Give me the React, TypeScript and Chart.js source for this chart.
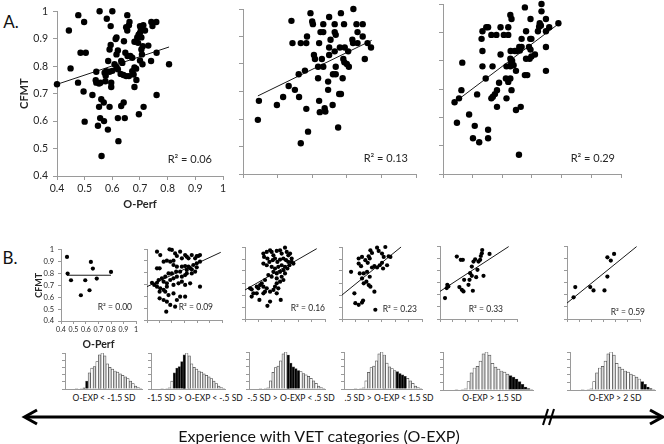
import React, { useEffect, useRef } from "react";
import { Chart, registerables } from "chart.js";
Chart.register(...registerables);

const FONT = "Lato, 'Open Sans', 'DejaVu Sans', sans-serif";
const AXIS_GREY = "#9a9a9a";
const TEXT = "#262626";
Chart.defaults.font.family = FONT;

// ---------- tick labels ----------
const oPerfTickLabels = ["0.4", "0.5", "0.6", "0.7", "0.8", "0.9", "1"];
const cfmtTickLabels = ["0.4", "0.5", "0.6", "0.7", "0.8", "0.9", "1"];
const xTitle = "O-Perf";
const yTitle = "CFMT";

// ---------- panel A data: [O-Perf, CFMT] ----------
const a1Points: [number, number][] = [
  [0.554, 1.0], [0.6, 1.0], [0.477, 0.986], [0.654, 0.986], [0.58, 0.973], [0.498, 0.961], [0.594, 0.946],
  [0.662, 0.961], [0.66, 0.949], [0.65, 0.942], [0.654, 0.93], [0.443, 0.93], [0.7, 0.946], [0.703, 0.937],
  [0.712, 0.949], [0.745, 0.946], [0.741, 0.961], [0.759, 0.961], [0.718, 0.93], [0.615, 0.905], [0.612, 0.899],
  [0.69, 0.905], [0.695, 0.915], [0.7, 0.922], [0.705, 0.905], [0.642, 0.891], [0.68, 0.889], [0.693, 0.885],
  [0.594, 0.877], [0.59, 0.861], [0.71, 0.873], [0.73, 0.875], [0.485, 0.849], [0.504, 0.849], [0.62, 0.857],
  [0.615, 0.843], [0.647, 0.849], [0.655, 0.837], [0.665, 0.837], [0.705, 0.861], [0.707, 0.843], [0.76, 0.849],
  [0.585, 0.819], [0.608, 0.807], [0.615, 0.797], [0.632, 0.819], [0.636, 0.812], [0.672, 0.831], [0.7, 0.821],
  [0.709, 0.807], [0.74, 0.819], [0.805, 0.807], [0.449, 0.792], [0.6, 0.783], [0.62, 0.789], [0.68, 0.795],
  [0.686, 0.791], [0.542, 0.78], [0.572, 0.776], [0.578, 0.782], [0.59, 0.78], [0.63, 0.772], [0.64, 0.768],
  [0.65, 0.764], [0.66, 0.764], [0.672, 0.782], [0.677, 0.77], [0.4, 0.734], [0.476, 0.74], [0.54, 0.749],
  [0.542, 0.74], [0.552, 0.737], [0.557, 0.74], [0.576, 0.765], [0.575, 0.745], [0.596, 0.74], [0.596, 0.724],
  [0.687, 0.75], [0.68, 0.724], [0.496, 0.708], [0.528, 0.695], [0.56, 0.68], [0.569, 0.668], [0.76, 0.695],
  [0.552, 0.652], [0.59, 0.652], [0.632, 0.655], [0.641, 0.668], [0.713, 0.652], [0.556, 0.611], [0.62, 0.611],
  [0.645, 0.611], [0.5, 0.598], [0.57, 0.6], [0.696, 0.625], [0.548, 0.583], [0.584, 0.569], [0.622, 0.527],
  [0.561, 0.473],
];
const a1Trend: [number, number][] = [[0.4, 0.734], [0.805, 0.87]];

const a2Points: [number, number][] = [
  [0.595, 0.985], [0.719, 1.0], [0.683, 0.985], [0.649, 0.971], [0.54, 0.957], [0.6, 0.955], [0.602, 0.945],
  [0.632, 0.945], [0.665, 0.945], [0.692, 0.945], [0.728, 0.945], [0.746, 0.945], [0.624, 0.916], [0.632, 0.916],
  [0.665, 0.916], [0.668, 0.906], [0.731, 0.916], [0.585, 0.9], [0.746, 0.9], [0.653, 0.888], [0.716, 0.888],
  [0.718, 0.876], [0.543, 0.876], [0.567, 0.876], [0.583, 0.876], [0.62, 0.876], [0.731, 0.876], [0.76, 0.876],
  [0.77, 0.86], [0.649, 0.86], [0.68, 0.86], [0.694, 0.86], [0.665, 0.846], [0.704, 0.846], [0.605, 0.833],
  [0.608, 0.818], [0.649, 0.833], [0.628, 0.818], [0.69, 0.818], [0.693, 0.806], [0.752, 0.818], [0.617, 0.79],
  [0.632, 0.79], [0.668, 0.79], [0.7, 0.8], [0.706, 0.79], [0.579, 0.776], [0.561, 0.763], [0.66, 0.763],
  [0.668, 0.763], [0.617, 0.748], [0.688, 0.748], [0.646, 0.736], [0.532, 0.72], [0.55, 0.706], [0.646, 0.706],
  [0.678, 0.691], [0.683, 0.691], [0.446, 0.666], [0.516, 0.68], [0.562, 0.68], [0.62, 0.666], [0.498, 0.651],
  [0.659, 0.651], [0.583, 0.637], [0.636, 0.639], [0.638, 0.627], [0.622, 0.625], [0.443, 0.597], [0.675, 0.569],
  [0.588, 0.554], [0.567, 0.512],
];
const a2Trend: [number, number][] = [[0.443, 0.684], [0.772, 0.886]];

const a3Points: [number, number][] = [
  [0.732, 1.0], [0.676, 0.988], [0.732, 0.974], [0.627, 0.961], [0.631, 0.947], [0.747, 0.947], [0.695, 0.947],
  [0.726, 0.932], [0.73, 0.924], [0.724, 0.92], [0.789, 0.932], [0.758, 0.918], [0.546, 0.918], [0.552, 0.918],
  [0.594, 0.918], [0.62, 0.918], [0.533, 0.904], [0.68, 0.904], [0.72, 0.904], [0.747, 0.904], [0.563, 0.891],
  [0.58, 0.891], [0.605, 0.891], [0.62, 0.891], [0.53, 0.877], [0.665, 0.877], [0.698, 0.877], [0.694, 0.877],
  [0.657, 0.848], [0.665, 0.848], [0.69, 0.848], [0.695, 0.839], [0.533, 0.834], [0.628, 0.834], [0.642, 0.834],
  [0.648, 0.834], [0.659, 0.836], [0.747, 0.848], [0.71, 0.822], [0.594, 0.822], [0.627, 0.807], [0.633, 0.8],
  [0.68, 0.807], [0.692, 0.807], [0.698, 0.815], [0.465, 0.793], [0.63, 0.792], [0.638, 0.784], [0.533, 0.78],
  [0.567, 0.78], [0.614, 0.78], [0.627, 0.78], [0.646, 0.764], [0.747, 0.764], [0.676, 0.749], [0.684, 0.749],
  [0.612, 0.737], [0.627, 0.737], [0.544, 0.737], [0.62, 0.725], [0.589, 0.722], [0.462, 0.696], [0.582, 0.696],
  [0.631, 0.696], [0.515, 0.681], [0.575, 0.682], [0.568, 0.673], [0.563, 0.667], [0.614, 0.667], [0.454, 0.667],
  [0.439, 0.653], [0.582, 0.637], [0.662, 0.637], [0.646, 0.626], [0.488, 0.61], [0.447, 0.581], [0.507, 0.57],
  [0.552, 0.556], [0.501, 0.526], [0.552, 0.526], [0.522, 0.512], [0.656, 0.468],
];
const a3Trend: [number, number][] = [[0.439, 0.653], [0.792, 0.932]];

const r2TextA = ["R\u00B2 = 0.06", "R\u00B2 = 0.13", "R\u00B2 = 0.29"];

// ---------- panel B data ----------
const b1Points: [number, number][] = [
  [0.448, 0.938], [0.453, 0.798], [0.48, 0.742], [0.559, 0.616], [0.594, 0.742], [0.639, 0.896], [0.655, 0.84],
  [0.628, 0.658], [0.686, 0.756], [0.8, 0.812],
];
const b1Trend: [number, number][] = [[0.448, 0.784], [0.8, 0.784]];

const b2Points: [number, number][] = [
  [0.48, 0.977], [0.506, 0.949], [0.58, 0.997], [0.599, 0.992], [0.625, 0.963], [0.665, 0.977], [0.705, 0.949],
  [0.718, 0.935], [0.732, 0.921], [0.758, 0.949], [0.785, 0.921], [0.798, 0.941], [0.811, 0.941], [0.824, 0.949],
  [0.679, 0.921], [0.639, 0.941], [0.612, 0.901], [0.586, 0.893], [0.559, 0.901], [0.533, 0.893], [0.48, 0.837],
  [0.501, 0.837], [0.612, 0.865], [0.639, 0.851], [0.679, 0.851], [0.705, 0.856], [0.732, 0.851], [0.745, 0.837],
  [0.758, 0.828], [0.771, 0.865], [0.798, 0.845], [0.718, 0.823], [0.665, 0.808], [0.633, 0.808], [0.599, 0.794],
  [0.572, 0.794], [0.546, 0.766], [0.519, 0.752], [0.493, 0.738], [0.48, 0.715], [0.533, 0.724], [0.559, 0.71],
  [0.586, 0.738], [0.612, 0.752], [0.639, 0.766], [0.679, 0.766], [0.705, 0.78], [0.718, 0.794], [0.758, 0.794],
  [0.785, 0.808], [0.798, 0.879], [0.824, 0.893], [0.44, 0.715], [0.458, 0.696], [0.48, 0.682], [0.506, 0.668],
  [0.533, 0.654], [0.501, 0.639], [0.559, 0.682], [0.612, 0.696], [0.652, 0.71], [0.679, 0.724], [0.705, 0.696],
  [0.745, 0.71], [0.824, 0.682], [0.546, 0.639], [0.572, 0.611], [0.612, 0.625], [0.665, 0.597], [0.705, 0.597],
  [0.639, 0.569], [0.501, 0.583], [0.533, 0.569], [0.559, 0.555], [0.586, 0.527], [0.625, 0.513], [0.554, 0.47],
];
const b2Trend: [number, number][] = [[0.4, 0.682], [0.99, 0.972]];

const b3Points: [number, number][] = [
  [0.538, 0.945], [0.563, 0.959], [0.588, 0.972], [0.6, 0.959], [0.613, 0.931], [0.638, 0.967], [0.663, 0.972],
  [0.675, 0.945], [0.7, 0.994], [0.713, 0.959], [0.725, 0.931], [0.738, 0.945], [0.543, 0.917], [0.568, 0.904],
  [0.583, 0.876], [0.608, 0.89], [0.625, 0.904], [0.643, 0.876], [0.663, 0.895], [0.688, 0.904], [0.708, 0.89],
  [0.725, 0.876], [0.75, 0.876], [0.763, 0.862], [0.75, 0.904], [0.538, 0.862], [0.563, 0.848], [0.6, 0.835],
  [0.625, 0.821], [0.65, 0.835], [0.675, 0.848], [0.7, 0.835], [0.718, 0.821], [0.733, 0.848], [0.613, 0.793],
  [0.638, 0.78], [0.663, 0.793], [0.688, 0.807], [0.7, 0.78], [0.675, 0.752], [0.638, 0.738], [0.6, 0.752],
  [0.575, 0.766], [0.55, 0.725], [0.688, 0.725], [0.663, 0.711], [0.438, 0.656], [0.45, 0.647], [0.488, 0.669],
  [0.513, 0.683], [0.525, 0.697], [0.538, 0.669], [0.563, 0.656], [0.538, 0.614], [0.588, 0.628], [0.613, 0.642],
  [0.625, 0.669], [0.638, 0.697], [0.65, 0.656], [0.5, 0.656], [0.488, 0.614], [0.45, 0.587], [0.463, 0.614],
  [0.508, 0.559], [0.588, 0.545], [0.568, 0.51], [0.668, 0.559], [0.638, 0.614], [0.55, 0.628],
];
const b3Trend: [number, number][] = [[0.4, 0.642], [0.938, 0.986]];

const b4Points: [number, number][] = [
  [0.663, 0.994], [0.725, 1.0], [0.613, 0.972], [0.625, 0.95], [0.675, 0.967], [0.525, 0.904], [0.55, 0.917],
  [0.575, 0.89], [0.6, 0.923], [0.608, 0.904], [0.7, 0.945], [0.713, 0.917], [0.75, 0.923], [0.763, 0.917],
  [0.525, 0.862], [0.543, 0.84], [0.593, 0.868], [0.625, 0.829], [0.643, 0.84], [0.663, 0.829], [0.683, 0.848],
  [0.7, 0.868], [0.708, 0.821], [0.738, 0.848], [0.468, 0.793], [0.533, 0.78], [0.563, 0.78], [0.588, 0.793],
  [0.608, 0.752], [0.55, 0.738], [0.583, 0.711], [0.563, 0.697], [0.6, 0.683], [0.613, 0.669], [0.643, 0.628],
  [0.493, 0.614], [0.5, 0.532], [0.525, 0.518], [0.55, 0.537], [0.558, 0.554], [0.65, 0.477],
];
const b4Trend: [number, number][] = [[0.4, 0.6], [0.843, 1.0]];

const b5Points: [number, number][] = [
  [0.439, 0.572], [0.452, 0.654], [0.457, 0.681], [0.465, 0.668], [0.531, 0.913], [0.562, 0.886], [0.578, 0.886],
  [0.551, 0.662], [0.57, 0.64], [0.583, 0.627], [0.588, 0.722], [0.622, 0.681], [0.63, 0.722], [0.635, 0.777],
  [0.648, 0.831], [0.648, 0.755], [0.656, 0.632], [0.661, 0.872], [0.674, 0.891], [0.682, 0.744], [0.692, 0.804],
  [0.7, 0.872], [0.713, 0.886], [0.718, 0.918], [0.726, 0.94], [0.729, 0.967], [0.739, 0.755], [0.786, 0.935],
];
const b5Trend: [number, number][] = [[0.4, 0.627], [0.935, 0.995]];

const b6Points: [number, number][] = [
  [0.454, 0.578], [0.468, 0.662], [0.591, 0.662], [0.618, 0.635], [0.708, 0.635], [0.732, 0.749], [0.732, 0.907],
  [0.76, 0.88], [0.787, 0.935],
];
const b6Trend: [number, number][] = [[0.4, 0.531], [0.972, 0.995]];

const r2TextB = ["R\u00B2 = 0.00", "R\u00B2 = 0.09", "R\u00B2 = 0.16", "R\u00B2 = 0.23", "R\u00B2 = 0.33", "R\u00B2 = 0.59"];

// ---------- histograms of O-EXP (relative counts per bin) ----------
const expBins = [0, 0, 0, 0, 2, 0, 2, 3, 22, 45, 58, 62, 76, 95, 100, 92, 70, 60, 55, 50, 47, 42, 38, 34, 29, 22, 15, 8, 4, 2];
const highlightedBins: [number, number][] = [[7, 8], [9, 13], [15, 19], [20, 23], [22, 28], [25, 28]];
const histLabels = [
  "O-EXP < -1.5 SD",
  "-1.5 SD > O-EXP < -.5 SD",
  "-.5 SD > O-EXP < .5 SD",
  ".5 SD > O-EXP < 1.5 SD",
  "O-EXP > 1.5 SD",
  "O-EXP > 2 SD",
];
const captionText = "Experience with VET categories (O-EXP)";

// ---------- layout ----------
type Rect = { l: number; t: number; r: number; b: number };
type M = { ml: number; mt: number; mr: number; mb: number };

const r2Plugin = {
  id: "r2label",
  afterDatasetsDraw(chart: any, _a: any, opts: any) {
    if (!opts || !opts.text) return;
    const { ctx, chartArea } = chart;
    ctx.save();
    ctx.font = `${opts.size}px ${FONT}`;
    ctx.fillStyle = TEXT;
    ctx.textAlign = "right";
    ctx.textBaseline = "middle";
    ctx.fillText(opts.text, chartArea.right - opts.dr, chartArea.bottom - opts.db);
    ctx.restore();
  },
};

const tickCb = (labels: string[]) => (v: any) => {
  const i = Math.round((Number(v) - 0.4) * 10);
  return labels[i] ?? "";
};

type ScatterProps = {
  rect: Rect; m: M; xMax: number; pts: [number, number][]; trend: [number, number][];
  r2: string; r2dr: number; r2db: number; r2size: number; radius: number;
  labels?: "big" | "small"; tickLen: number;
};

function ScatterPanel(p: ScatterProps) {
  const ref = useRef<HTMLCanvasElement>(null);
  const w = p.rect.r - p.rect.l + p.m.ml + p.m.mr;
  const h = p.rect.b - p.rect.t + p.m.mt + p.m.mb;
  useEffect(() => {
    const big = p.labels === "big";
    const show = !!p.labels;
    const xTickSize = big ? 10.5 : 7;
    const yTickSize = big ? 10.5 : 7.5;
    const xTitleSize = big ? 11 : 10.5;
    const yTitleSize = big ? 11 : 9;
    const chart = new Chart(ref.current!, {
      type: "scatter",
      data: {
        datasets: [
          {
            data: p.pts.map(([x, y]) => ({ x, y })),
            pointRadius: p.radius,
            pointBackgroundColor: "#000",
            pointBorderWidth: 0,
            clip: false,
          } as any,
          {
            type: "line",
            data: p.trend.map(([x, y]) => ({ x, y })),
            borderColor: "#1a1a1a",
            borderWidth: 1,
            pointRadius: 0,
            showLine: true,
            fill: false,
            clip: false,
          } as any,
        ],
      },
      options: {
        responsive: false,
        animation: false,
        events: [],
        layout: { padding: { left: 0, top: p.m.mt, right: p.m.mr, bottom: 0 } },
        plugins: {
          legend: { display: false },
          tooltip: { enabled: false },
          r2label: { text: p.r2, dr: p.r2dr, db: p.r2db, size: p.r2size },
        } as any,
        scales: {
          x: {
            type: "linear",
            min: 0.4,
            max: p.xMax,
            afterFit: (s: any) => { s.height = p.m.mb; },
            ticks: {
              stepSize: 0.1, display: show, autoSkip: false, maxRotation: 0, minRotation: 0,
              padding: big ? 2 : 1.5, color: TEXT, font: { size: xTickSize, family: FONT },
              callback: tickCb(oPerfTickLabels),
            },
            grid: { drawOnChartArea: false, drawTicks: true, tickLength: p.tickLen, color: AXIS_GREY },
            border: { color: AXIS_GREY, width: 1 },
            title: {
              display: show, text: xTitle, color: TEXT, padding: 0,
              font: { size: xTitleSize, weight: "bold", family: FONT },
            },
          },
          y: {
            type: "linear",
            min: 0.4,
            max: 1,
            afterFit: (s: any) => { s.width = p.m.ml; },
            ticks: {
              stepSize: 0.1, display: show, autoSkip: false,
              padding: big ? 5 : 4, color: TEXT, font: { size: yTickSize, family: FONT },
              callback: tickCb(cfmtTickLabels),
            },
            grid: { drawOnChartArea: false, drawTicks: true, tickLength: p.tickLen, color: AXIS_GREY },
            border: { color: AXIS_GREY, width: 1 },
            title: {
              display: show, text: yTitle, color: TEXT, padding: 0,
              font: { size: yTitleSize, weight: "bold", family: FONT },
            },
          },
        },
      } as any,
      plugins: [r2Plugin as any],
    });
    return () => chart.destroy();
  }, []);
  return (
    <canvas
      ref={ref}
      width={w}
      height={h}
      style={{ position: "absolute", left: p.rect.l - p.m.ml, top: p.rect.t - p.m.mt, width: w, height: h }}
    />
  );
}

function HistPanel({ rect, black }: { rect: Rect; black: [number, number] }) {
  const ref = useRef<HTMLCanvasElement>(null);
  const m = { ml: 4, mt: 2, mr: 3, mb: 1 };
  const w = rect.r - rect.l + m.ml + m.mr;
  const h = rect.b - rect.t + m.mt + m.mb;
  useEffect(() => {
    const chart = new Chart(ref.current!, {
      type: "bar",
      data: {
        labels: expBins.map((_, i) => String(i)),
        datasets: [
          {
            data: expBins,
            backgroundColor: expBins.map((_, i) =>
              i >= black[0] && i <= black[1] ? "#000" : i % 2 ? "#d9d9d9" : "#ffffff"
            ),
            borderColor: "#4a4a4a",
            borderWidth: 0.7,
            categoryPercentage: 1,
            barPercentage: 1,
          },
        ],
      },
      options: {
        responsive: false,
        animation: false,
        events: [],
        layout: { padding: { left: 0, top: m.mt, right: m.mr, bottom: 0 } },
        plugins: { legend: { display: false }, tooltip: { enabled: false } },
        scales: {
          x: {
            afterFit: (s: any) => { s.height = m.mb; },
            ticks: { display: false },
            grid: { display: false },
            border: { display: true, color: AXIS_GREY },
          },
          y: {
            min: 0,
            max: 100,
            afterFit: (s: any) => { s.width = m.ml; },
            ticks: { display: false, stepSize: 20 },
            grid: { drawOnChartArea: false, drawTicks: true, tickLength: 3, color: AXIS_GREY },
            border: { color: AXIS_GREY },
          },
        },
      } as any,
    });
    return () => chart.destroy();
  }, []);
  return (
    <canvas
      ref={ref}
      width={w}
      height={h}
      style={{ position: "absolute", left: rect.l - m.ml, top: rect.t - m.mt, width: w, height: h }}
    />
  );
}

function Txt({ x, y, text, size, bold }: { x: number; y: number; text: string; size: number; bold?: boolean }) {
  return (
    <div
      style={{
        position: "absolute", left: x, top: y, transform: "translate(-50%, -50%)", whiteSpace: "nowrap",
        fontFamily: FONT, fontSize: size, fontWeight: bold ? 700 : 400, color: "#111", lineHeight: 1,
      }}
    >
      {text}
    </div>
  );
}

const smallM: M = { ml: 5, mt: 5, mr: 6, mb: 5 };
const histRects: Rect[] = [
  { l: 65, t: 353, r: 142, b: 389 },
  { l: 151, t: 353, r: 225, b: 389 },
  { l: 249, t: 352, r: 325, b: 389 },
  { l: 344, t: 352, r: 422, b: 389 },
  { l: 443, t: 352, r: 533, b: 390 },
  { l: 570, t: 352, r: 655, b: 390 },
];
const histLabelX = [104, 195, 291, 389, 492, 615];

export default function App() {
  return (
    <div style={{ position: "absolute", left: 0, top: 0, width: 664, height: 444, background: "#fff", overflow: "hidden" }}>
      <Txt x={11} y={21} text="A." size={17} />
      <Txt x={10} y={257} text="B." size={17} />

      <ScatterPanel rect={{ l: 57, t: 10, r: 223, b: 176 }} m={{ ml: 39, mt: 10, mr: 8, mb: 35 }} xMax={1}
        pts={a1Points} trend={a1Trend} r2={r2TextA[0]} r2dr={11} r2db={17} r2size={11} radius={3.2} labels="big" tickLen={4} />
      <ScatterPanel rect={{ l: 243, t: 9, r: 416, b: 174 }} m={{ ml: 6, mt: 6, mr: 6, mb: 6 }} xMax={0.9}
        pts={a2Points} trend={a2Trend} r2={r2TextA[1]} r2dr={8} r2db={16} r2size={11} radius={3.2} tickLen={4} />
      <ScatterPanel rect={{ l: 443, t: 3, r: 621, b: 174 }} m={{ ml: 6, mt: 3, mr: 6, mb: 6 }} xMax={1}
        pts={a3Points} trend={a3Trend} r2={r2TextA[2]} r2dr={6} r2db={16} r2size={11} radius={3.2} tickLen={4} />

      <ScatterPanel rect={{ l: 61, t: 249, r: 136, b: 321 }} m={{ ml: 27, mt: 8, mr: 6, mb: 30 }} xMax={1}
        pts={b1Points} trend={b1Trend} r2={r2TextB[0]} r2dr={4} r2db={14} r2size={8.5} radius={2.1} labels="small" tickLen={3} />
      <ScatterPanel rect={{ l: 147, t: 249, r: 222, b: 320 }} m={smallM} xMax={1}
        pts={b2Points} trend={b2Trend} r2={r2TextB[1]} r2dr={9} r2db={13} r2size={8.5} radius={2.1} tickLen={3} />
      <ScatterPanel rect={{ l: 245, t: 247, r: 325, b: 319 }} m={smallM} xMax={1}
        pts={b3Points} trend={b3Trend} r2={r2TextB[2]} r2dr={0} r2db={11} r2size={8.5} radius={2.1} tickLen={3} />
      <ScatterPanel rect={{ l: 342, t: 247, r: 422, b: 319 }} m={smallM} xMax={1}
        pts={b4Points} trend={b4Trend} r2={r2TextB[3]} r2dr={5} r2db={10} r2size={8.5} radius={2.1} tickLen={3} />
      <ScatterPanel rect={{ l: 440, t: 246, r: 517, b: 319 }} m={smallM} xMax={1}
        pts={b5Points} trend={b5Trend} r2={r2TextB[4]} r2dr={14} r2db={10} r2size={8.5} radius={2.1} tickLen={3} />
      <ScatterPanel rect={{ l: 567, t: 246, r: 640, b: 319 }} m={{ ml: 5, mt: 5, mr: 12, mb: 5 }} xMax={1}
        pts={b6Points} trend={b6Trend} r2={r2TextB[5]} r2dr={-5} r2db={7} r2size={8.5} radius={2.1} tickLen={3} />

      {histRects.map((r, i) => (
        <HistPanel key={i} rect={r} black={highlightedBins[i]} />
      ))}
      {histLabels.map((t, i) => (
        <Txt key={"hl" + i} x={histLabelX[i]} y={398} text={t} size={8.5} />
      ))}

      <svg width={664} height={444} style={{ position: "absolute", left: 0, top: 0, pointerEvents: "none" }}>
        <line x1={25} y1={417} x2={661} y2={417} stroke="#000" strokeWidth={3} />
        <polyline points="37,410 24.5,417 37,424" fill="none" stroke="#000" strokeWidth={3} />
        <polyline points="650,410 662.5,417 650,424" fill="none" stroke="#000" strokeWidth={3} />
        <line x1={543} y1={425} x2={548} y2={409} stroke="#000" strokeWidth={2} />
        <line x1={549} y1={425} x2={554} y2={409} stroke="#000" strokeWidth={2} />
      </svg>

      <Txt x={319} y={436} text={captionText} size={16} />
    </div>
  );
}
